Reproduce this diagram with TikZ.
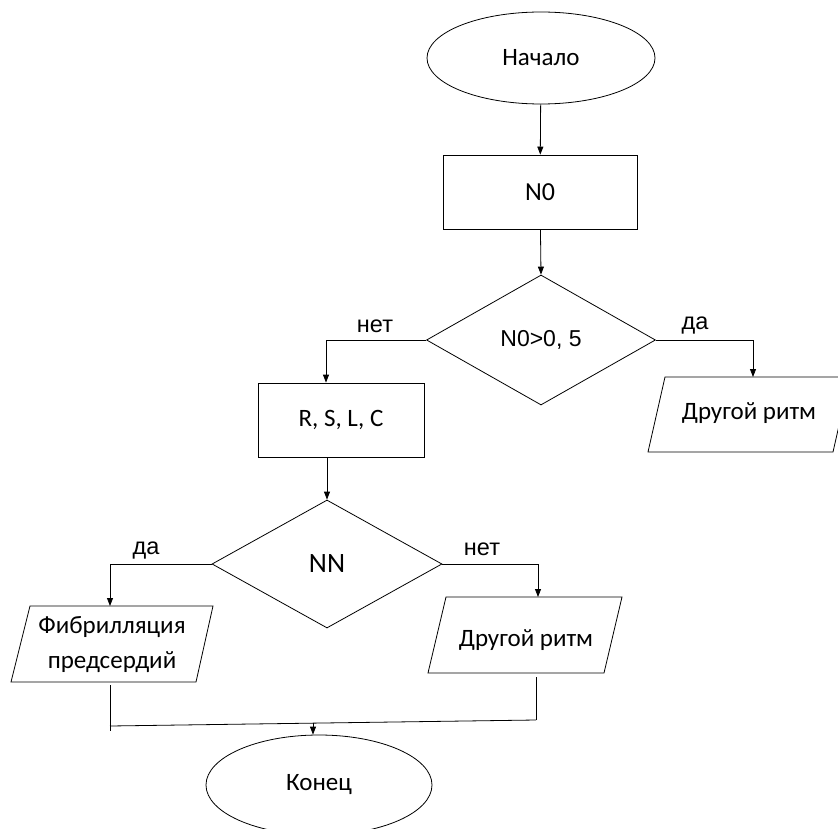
\documentclass[tikz,border=0pt]{standalone}
\usepackage{fontspec}
\setmainfont{Carlito}
\newfontfamily\arialf{Liberation Sans}
\usetikzlibrary{shapes.geometric,arrows.meta}
\begin{document}
\begin{tikzpicture}[x=1pt,y=-1pt,
  line width=0.8pt,
  base/.style={draw=black,inner sep=0pt,font=\fontsize{25}{30}\selectfont},
  term/.style={base,ellipse,minimum width=228pt,minimum height=92pt},
  proc/.style={base,rectangle,minimum width=194pt,minimum height=74pt},
  decis/.style={base,diamond,aspect=1.76,minimum width=229pt,minimum height=130pt},
  lbl/.style={inner sep=0pt,font=\arialf\fontsize{23.5}{28}\selectfont},
  txt/.style={inner sep=0pt,font=\fontsize{25}{30}\selectfont,align=center},
  arr/.style={-{Triangle[length=8pt,width=6pt]}}
]
\useasboundingbox (0,0) rectangle (838,829);
\clip (0,0) rectangle (838,829);
\fill[white] (0,0) rectangle (838,829);

\node[term] (start) at (541,58) {Начало};
\node[proc,font=\fontsize{26}{30}\selectfont] (n0) at (540,192) {N0};
\node[decis,font=\arialf\fontsize{23}{27}\selectfont] (d1) at (541,340) {N0>0, 5};
\node[proc,minimum width=166pt] (rslc) at (341,420) {R, S, L, C};

% right parallelogram 1
\draw (648,452) -- (665,377) -- (850,377) -- (833,452) -- cycle;
\coordinate (p1top) at (753,377);
\node[txt] (p1t) at (749,413) {Другой ритм};

\node[decis,minimum width=230pt,minimum height=128pt,aspect=1.8,font=\fontsize{28}{32}\selectfont] (d2) at (327,564) {NN};

% left parallelogram
\draw (11,682) -- (30,606) -- (213,606) -- (196,682) -- cycle;
\coordinate (p2top) at (110,606);
\coordinate (p2bot) at (110,685);
\node[txt,font=\fontsize{25}{35}\selectfont] (p2t) at (112,645) {Фибрилляция\\предсердий};

% right parallelogram 2
\draw (428,673) -- (446,597) -- (622,597) -- (604,673) -- cycle;
\coordinate (p3top) at (538,597);
\coordinate (p3bot) at (536,677);
\node[txt] (p3t) at (526,640) {Другой ритм};

\node[term,minimum width=226pt,minimum height=100pt] (end) at (319,785) {Конец};

% connectors
\draw[arr] (start) -- (n0);
\draw[arr] (n0) -- (d1.north);
\draw[arr] (d1.west) -| (rslc.north -| 326,0);
\draw[arr] (d1.east) -| (p1top);
\draw[arr] (rslc.south -| d2.north) -- (d2.north);
\draw[arr] (d2.west) -| (p2top);
\draw[arr] (d2.east) -| (p3top);

\coordinate (jl) at (110,726);
\coordinate (jr) at (536,720);
\coordinate (jm) at (313,723);
\draw (p2bot) -- (110,731);
\draw (jl) -- (jr);
\draw (p3bot) -- (jr);
\draw[arr] (jm) -- (end.north -| jm);

% labels
\node[lbl] (l1) at (375,326) {нет};
\node[lbl] (l2) at (695,326) {да};
\node[lbl] (l3) at (146,551) {да};
\node[lbl] (l4) at (482,549) {нет};
\end{tikzpicture}
\end{document}
